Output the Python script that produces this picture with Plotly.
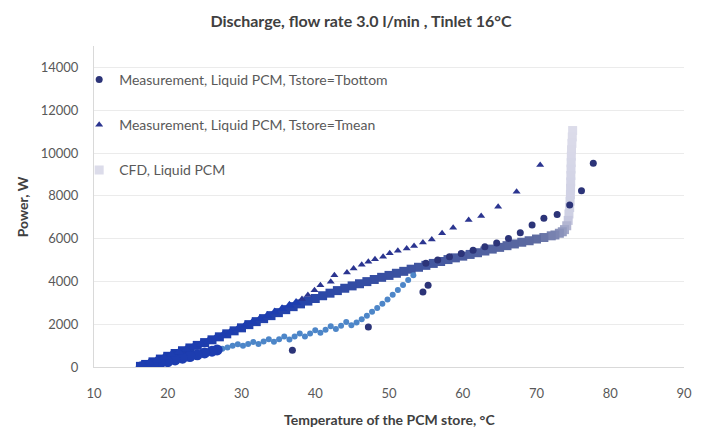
import plotly.graph_objects as go

# ---------------- data ----------------
# Measurement, Tstore = Tbottom (sparse high-temperature points + isolated points)
tbottom_x = [77.7, 76.1, 74.5, 72.8, 71.0, 69.4, 67.8, 66.2, 64.6, 63.0, 61.4, 59.8, 58.2, 56.6, 55.0,
             55.3, 54.6, 47.2, 36.9]
tbottom_y = [9520, 8240, 7570, 7130, 6950, 6630, 6270, 6000, 5800, 5620, 5460, 5300, 5150, 5000, 4850,
             3820, 3510, 1870, 780]
# Tbottom – lower branch
tbottom_branch_x = [53.3, 52.6, 51.9, 51.2, 50.5, 49.8, 49.1, 48.4, 47.7, 47.0, 46.3, 45.6, 44.9, 44.2,
                    43.5, 42.8, 42.1, 41.4, 40.7, 40.0, 39.3, 38.6, 37.9, 37.2, 36.5, 35.8, 35.1, 34.4,
                    33.7, 33.0, 32.3, 31.6, 30.9, 30.2, 29.5, 28.8, 28.1, 27.4]
tbottom_branch_y = [4290, 4060, 3830, 3600, 3380, 3160, 2950, 2760, 2580, 2400, 2230, 2080, 1950, 2100,
                    1930, 1780, 1900, 1740, 1600, 1720, 1570, 1430, 1560, 1420, 1290, 1420, 1300, 1180,
                    1300, 1190, 1080, 1170, 1080, 990, 1060, 990, 910, 850]
# Tbottom – end of discharge
tbottom_tail_x = [26.7, 26.0, 25.0, 24.0, 23.0, 22.0, 21.0, 20.0, 19.0, 18.0, 17.0, 16.4]
tbottom_tail_y = [800, 740, 660, 570, 490, 410, 330, 250, 180, 110, 50, 10]

# Measurement, Tstore = Tmean
tmean_x = [70.5, 67.3, 64.8, 62.5, 60.8, 58.7, 57.2, 55.8, 54.6, 53.4, 52.4, 51.2, 50.1, 49.2, 48.1,
           47.2, 46.3, 45.2, 44.3, 42.6, 42.1, 40.7, 39.9, 39.0, 38.2]
tmean_y = [9440, 8190, 7490, 7060, 6870, 6510, 6250, 5960, 5820, 5650, 5540, 5430, 5310, 5150, 5040,
           4920, 4780, 4600, 4420, 4290, 3980, 3820, 3590, 3360, 3180]
tmean_tail_x = [37.4, 36.5, 35.5, 34.5, 33.5, 32.5, 31.5, 30.5, 29.5, 28.5, 27.5, 26.5, 25.5, 24.5,
                23.5, 22.5, 21.5, 20.5, 19.5, 18.5, 17.5, 16.6]
tmean_tail_y = [3010, 2880, 2720, 2570, 2410, 2260, 2100, 1950, 1790, 1640, 1490, 1350, 1220, 1080,
                950, 830, 700, 580, 460, 330, 210, 100]

# CFD, Liquid PCM
cfd_x = [74.9, 74.85, 74.8, 74.75, 74.72, 74.7, 74.68, 74.66, 74.64, 74.62, 74.6, 74.55, 74.5, 74.4,
         74.3, 74.1, 73.8, 73.5, 73.1, 72.5, 72.0, 71.0, 70.0, 69.0, 68.0, 67.0, 66.0, 65.0, 64.0,
         63.0, 62.0, 61.0, 60.0, 59.0, 58.0, 57.0, 56.0, 55.0, 54.0, 53.0, 52.0, 51.0, 50.0, 49.0,
         48.0, 47.0, 46.0, 45.0, 44.0, 43.0, 42.0, 41.0, 40.0, 39.0, 38.0, 37.0, 36.0, 35.0, 34.0,
         33.0, 32.0, 31.0, 30.0, 29.0, 28.0, 27.0, 26.0, 25.0, 24.0, 23.0, 22.0, 21.0, 20.0, 19.0,
         18.0, 17.0, 16.3]
cfd_y = [11050, 10750, 10450, 10150, 9850, 9550, 9250, 8950, 8650, 8350, 8050, 7750, 7450, 7150,
         6850, 6600, 6420, 6320, 6250, 6170, 6130, 6050, 5980, 5900, 5830, 5750, 5670, 5590, 5510,
         5420, 5340, 5260, 5180, 5100, 5020, 4930, 4840, 4750, 4660, 4570, 4470, 4380, 4280, 4190,
         4090, 3990, 3890, 3790, 3680, 3570, 3450, 3330, 3200, 3080, 2950, 2820, 2680, 2540, 2400,
         2260, 2120, 1980, 1830, 1690, 1550, 1410, 1270, 1140, 1010, 890, 760, 630, 500, 370,
         240, 120, 30]

y_ticks = [0, 2000, 4000, 6000, 8000, 10000, 12000, 14000]
x_ticks = [10, 20, 30, 40, 50, 60, 70, 80, 90]

title_text = "Discharge, flow rate 3.0 l/min , Tinlet 16°C"
x_title = "Temperature of the PCM store, °C"
y_title = "Power, W"
name_bottom = "Measurement, Liquid PCM, Tstore=Tbottom"
name_mean = "Measurement, Liquid PCM, Tstore=Tmean"
name_cfd = "CFD, Liquid PCM"

# ---------------- figure ----------------
FONT = "Lato, 'Open Sans', sans-serif"
fig = go.Figure()

cfd_scale = [[0.0, "#1a3aae"], [0.25, "#2443aa"], [0.40, "#3b51a0"], [0.54, "#5d6aa0"],
             [0.58, "#a3a8c8"], [0.63, "#cdcfe3"], [1.0, "#dcdcea"]]
fig.add_trace(go.Scatter(
    x=cfd_x, y=cfd_y, mode="markers", name=name_cfd, legendgroup="c", legendrank=3,
    marker=dict(symbol="square", size=9, color=cfd_y, colorscale=cfd_scale,
                cmin=0, cmax=11050, showscale=False, line=dict(width=0)),
))
fig.add_trace(go.Scatter(
    x=tbottom_branch_x, y=tbottom_branch_y, mode="markers", legendgroup="b",
    showlegend=False, marker=dict(symbol="circle", size=6, color="#4d86c8"),
))
fig.add_trace(go.Scatter(
    x=tbottom_tail_x, y=tbottom_tail_y, mode="markers", legendgroup="b",
    showlegend=False, marker=dict(symbol="circle", size=11, color="#1d3db0"),
))
fig.add_trace(go.Scatter(
    x=tbottom_x, y=tbottom_y, mode="markers", name=name_bottom, legendgroup="b", legendrank=1,
    marker=dict(symbol="circle", size=7, color="#2c3478"),
))
fig.add_trace(go.Scatter(
    x=tmean_tail_x, y=tmean_tail_y, mode="markers", legendgroup="m",
    showlegend=False, marker=dict(symbol="triangle-up", size=9, color="#1d3db0"),
))
fig.add_trace(go.Scatter(
    x=tmean_x, y=tmean_y, mode="markers", name=name_mean, legendgroup="m", legendrank=2,
    marker=dict(symbol="triangle-up", size=7, color="#2b3590"),
))

plot_l, plot_r, plot_t, plot_b = 94, 13, 46, 65
pw = 704 - plot_l - plot_r
ph = 432 - plot_t - plot_b

fig.update_layout(
    width=704, height=432,
    margin=dict(l=plot_l, r=plot_r, t=plot_t, b=plot_b),
    paper_bgcolor="white", plot_bgcolor="white",
    font=dict(family=FONT, size=13, color="#595959"),
    title=dict(text=title_text, x=361 / 704, xanchor="center", xref="container",
               y=1 - 21 / 432, yanchor="middle", yref="container",
               font=dict(family=FONT, size=16, color="#404040", weight="bold")),
    showlegend=True,
    legend=dict(x=(79 - plot_l) / pw, xanchor="left", y=1 - (64 - plot_t) / ph, yanchor="top",
                bgcolor="rgba(0,0,0,0)", font=dict(size=14, color="#595959"),
                traceorder="grouped", tracegroupgap=24, itemwidth=30),
    xaxis=dict(range=[10, 90], tickvals=x_ticks, showgrid=False, zeroline=False,
               showline=True, linecolor="#d9d9d9", linewidth=1, ticks="", tickformat="d",
               ticklabelstandoff=14, tickfont=dict(size=13, color="#595959")),
    yaxis=dict(range=[0, 15000], tickvals=y_ticks, showgrid=True, gridcolor="#ebebeb",
               gridwidth=1, zeroline=False, showline=True, linecolor="#d9d9d9", linewidth=1,
               ticks="", tickformat="d", ticklabelstandoff=12,
               tickfont=dict(size=13, color="#595959")),
    annotations=[
        dict(text=f"<b>{x_title}</b>", xref="paper", yref="paper", x=0.5,
             y=-(419 - (432 - plot_b)) / ph, xanchor="center", yanchor="middle",
             showarrow=False, font=dict(size=14, color="#404040")),
        dict(text=f"<b>{y_title}</b>", xref="paper", yref="paper", x=(22 - plot_l) / pw,
             y=0.5, xanchor="center", yanchor="middle", textangle=-90,
             showarrow=False, font=dict(size=14, color="#404040")),
    ],
)

fig.write_html("out.html")
